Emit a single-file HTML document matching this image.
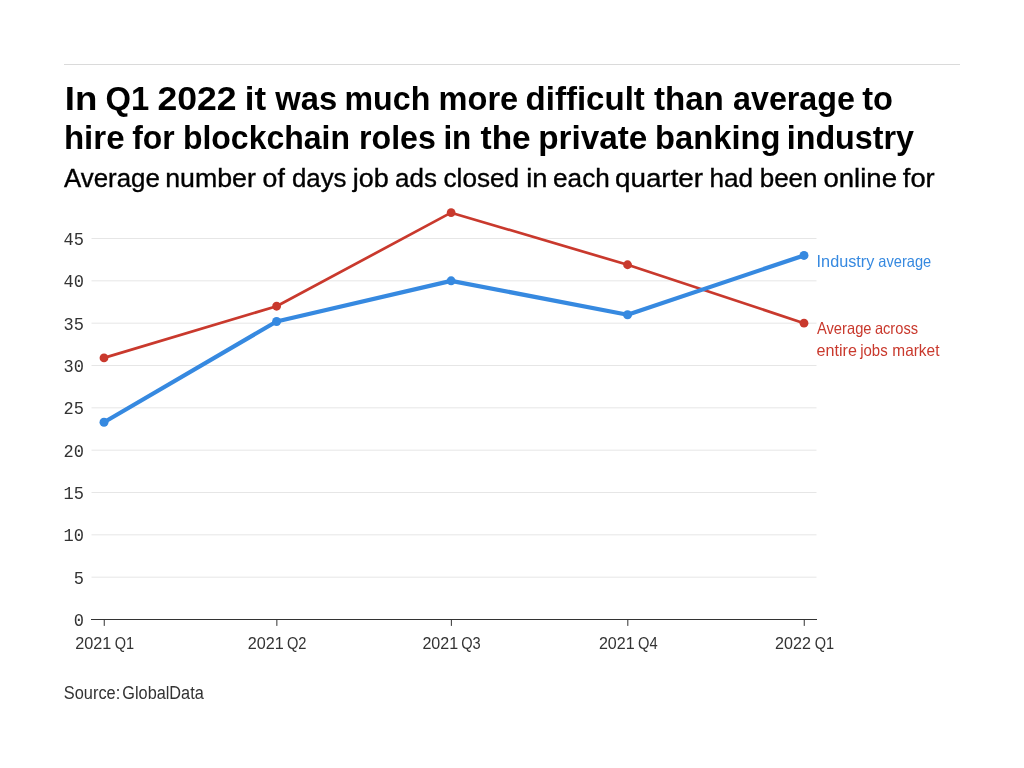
<!DOCTYPE html>
<html lang="en"><head><meta charset="utf-8"><title>Hiring difficulty for blockchain roles in private banking</title>
<style>
html,body{margin:0;padding:0;background:#fff;width:1024px;height:768px;overflow:hidden}
svg{position:absolute;left:0;top:0;display:block;will-change:transform}
text{font-family:"Liberation Sans",sans-serif;fill:#000;white-space:pre}
.t{font-size:33px;font-weight:700}
.s{font-size:25.8px;stroke:#000;stroke-width:.35px}
.m{font-family:"Liberation Mono",monospace;font-size:18.4px;fill:#333;text-anchor:end}
.x{font-size:16.5px;fill:#333}
.l{font-size:16.5px}
.src{font-size:18px;fill:#333}
</style></head><body>
<svg width="1024" height="768" viewBox="0 0 1024 768">
<rect x="64" y="64" width="896" height="1" fill="#dadada"/>
<text class="t" y="110"><tspan x="64.71" textLength="32.59" lengthAdjust="spacingAndGlyphs">In</tspan> <tspan x="105.59" textLength="43.74" lengthAdjust="spacingAndGlyphs">Q1</tspan> <tspan x="157.41" textLength="79.11" lengthAdjust="spacingAndGlyphs">2022</tspan> <tspan x="244.79" textLength="21.31" lengthAdjust="spacingAndGlyphs">it</tspan> <tspan x="275.30" textLength="61.90" lengthAdjust="spacingAndGlyphs">was</tspan> <tspan x="344.56" textLength="85.72" lengthAdjust="spacingAndGlyphs">much</tspan> <tspan x="438.62" textLength="79.60" lengthAdjust="spacingAndGlyphs">more</tspan> <tspan x="525.52" textLength="119.31" lengthAdjust="spacingAndGlyphs">difficult</tspan> <tspan x="653.93" textLength="69.95" lengthAdjust="spacingAndGlyphs">than</tspan> <tspan x="733.06" textLength="121.87" lengthAdjust="spacingAndGlyphs">average</tspan> <tspan x="862.17" textLength="30.75" lengthAdjust="spacingAndGlyphs">to</tspan></text>
<text class="t" y="148.8"><tspan x="63.92" textLength="60.64" lengthAdjust="spacingAndGlyphs">hire</tspan> <tspan x="132.19" textLength="42.51" lengthAdjust="spacingAndGlyphs">for</tspan> <tspan x="182.95" textLength="166.98" lengthAdjust="spacingAndGlyphs">blockchain</tspan> <tspan x="359.06" textLength="76.71" lengthAdjust="spacingAndGlyphs">roles</tspan> <tspan x="443.39" textLength="27.95" lengthAdjust="spacingAndGlyphs">in</tspan> <tspan x="480.50" textLength="50.19" lengthAdjust="spacingAndGlyphs">the</tspan> <tspan x="538.15" textLength="109.13" lengthAdjust="spacingAndGlyphs">private</tspan> <tspan x="655.03" textLength="125.44" lengthAdjust="spacingAndGlyphs">banking</tspan> <tspan x="786.71" textLength="127.32" lengthAdjust="spacingAndGlyphs">industry</tspan></text>
<text class="s" y="186.9"><tspan x="63.98" textLength="95.81" lengthAdjust="spacingAndGlyphs">Average</tspan> <tspan x="165.19" textLength="90.63" lengthAdjust="spacingAndGlyphs">number</tspan> <tspan x="262.61" textLength="22.23" lengthAdjust="spacingAndGlyphs">of</tspan> <tspan x="291.94" textLength="54.49" lengthAdjust="spacingAndGlyphs">days</tspan> <tspan x="352.66" textLength="36.01" lengthAdjust="spacingAndGlyphs">job</tspan> <tspan x="395.06" textLength="41.79" lengthAdjust="spacingAndGlyphs">ads</tspan> <tspan x="443.50" textLength="75.60" lengthAdjust="spacingAndGlyphs">closed</tspan> <tspan x="526.16" textLength="21.29" lengthAdjust="spacingAndGlyphs">in</tspan> <tspan x="553.08" textLength="56.67" lengthAdjust="spacingAndGlyphs">each</tspan> <tspan x="614.96" textLength="88.16" lengthAdjust="spacingAndGlyphs">quarter</tspan> <tspan x="709.55" textLength="43.58" lengthAdjust="spacingAndGlyphs">had</tspan> <tspan x="759.68" textLength="57.86" lengthAdjust="spacingAndGlyphs">been</tspan> <tspan x="823.40" textLength="73.64" lengthAdjust="spacingAndGlyphs">online</tspan> <tspan x="902.80" textLength="31.93" lengthAdjust="spacingAndGlyphs">for</tspan></text>
<g fill="#e6e6e6">
<rect x="91.5" y="576.67" width="725" height="1"/>
<rect x="91.5" y="534.33" width="725" height="1"/>
<rect x="91.5" y="492.00" width="725" height="1"/>
<rect x="91.5" y="449.67" width="725" height="1"/>
<rect x="91.5" y="407.33" width="725" height="1"/>
<rect x="91.5" y="365.00" width="725" height="1"/>
<rect x="91.5" y="322.67" width="725" height="1"/>
<rect x="91.5" y="280.33" width="725" height="1"/>
<rect x="91.5" y="238.00" width="725" height="1"/>
</g>
<text class="m" x="84" y="626.00" textLength="10.2" lengthAdjust="spacingAndGlyphs">0</text>
<text class="m" x="84" y="583.67" textLength="10.2" lengthAdjust="spacingAndGlyphs">5</text>
<text class="m" x="84" y="541.33" textLength="20.4" lengthAdjust="spacingAndGlyphs">10</text>
<text class="m" x="84" y="499.00" textLength="20.4" lengthAdjust="spacingAndGlyphs">15</text>
<text class="m" x="84" y="456.67" textLength="20.4" lengthAdjust="spacingAndGlyphs">20</text>
<text class="m" x="84" y="414.33" textLength="20.4" lengthAdjust="spacingAndGlyphs">25</text>
<text class="m" x="84" y="372.00" textLength="20.4" lengthAdjust="spacingAndGlyphs">30</text>
<text class="m" x="84" y="329.67" textLength="20.4" lengthAdjust="spacingAndGlyphs">35</text>
<text class="m" x="84" y="287.33" textLength="20.4" lengthAdjust="spacingAndGlyphs">40</text>
<text class="m" x="84" y="245.00" textLength="20.4" lengthAdjust="spacingAndGlyphs">45</text>
<rect x="91" y="619" width="726" height="1" fill="#333"/>
<rect x="103.75" y="619" width="1" height="6.9" fill="#333"/>
<text class="x" y="648.7"><tspan x="75.14" textLength="36.10" lengthAdjust="spacingAndGlyphs">2021</tspan> <tspan x="114.68" textLength="19.37" lengthAdjust="spacingAndGlyphs">Q1</tspan></text>
<rect x="276.35" y="619" width="1" height="6.9" fill="#333"/>
<text class="x" y="648.7"><tspan x="247.77" textLength="35.99" lengthAdjust="spacingAndGlyphs">2021</tspan> <tspan x="286.94" textLength="19.59" lengthAdjust="spacingAndGlyphs">Q2</tspan></text>
<rect x="450.87" y="619" width="1" height="6.9" fill="#333"/>
<text class="x" y="648.7"><tspan x="422.38" textLength="35.78" lengthAdjust="spacingAndGlyphs">2021</tspan> <tspan x="461.21" textLength="19.52" lengthAdjust="spacingAndGlyphs">Q3</tspan></text>
<rect x="627.31" y="619" width="1" height="6.9" fill="#333"/>
<text class="x" y="648.7"><tspan x="598.92" textLength="35.71" lengthAdjust="spacingAndGlyphs">2021</tspan> <tspan x="638.08" textLength="19.60" lengthAdjust="spacingAndGlyphs">Q4</tspan></text>
<rect x="803.75" y="619" width="1" height="6.9" fill="#333"/>
<text class="x" y="648.7"><tspan x="775.11" textLength="35.81" lengthAdjust="spacingAndGlyphs">2022</tspan> <tspan x="814.68" textLength="19.37" lengthAdjust="spacingAndGlyphs">Q1</tspan></text>
<polyline points="104.00,357.88 276.60,306.23 451.12,212.68 627.56,264.75 804.00,323.17" fill="none" stroke="#c9392d" stroke-width="2.7" stroke-linejoin="round"/>
<g fill="#c9392d"><circle cx="104.00" cy="357.88" r="4.4"/><circle cx="276.60" cy="306.23" r="4.4"/><circle cx="451.12" cy="212.68" r="4.4"/><circle cx="627.56" cy="264.75" r="4.4"/><circle cx="804.00" cy="323.17" r="4.4"/></g>
<polyline points="104.00,422.23 276.60,321.47 451.12,280.83 627.56,314.70 804.00,255.43" fill="none" stroke="#3689e0" stroke-width="4.2" stroke-linejoin="round"/>
<g fill="#3689e0"><circle cx="104.00" cy="422.23" r="4.5"/><circle cx="276.60" cy="321.47" r="4.5"/><circle cx="451.12" cy="280.83" r="4.5"/><circle cx="627.56" cy="314.70" r="4.5"/><circle cx="804.00" cy="255.43" r="4.5"/></g>
<text class="l" y="266.6" style="fill:#3689e0"><tspan x="816.62" textLength="57.74" lengthAdjust="spacingAndGlyphs">Industry</tspan> <tspan x="878.31" textLength="52.96" lengthAdjust="spacingAndGlyphs">average</tspan></text>
<text class="l" y="334.4" style="fill:#c9392d"><tspan x="816.96" textLength="54.59" lengthAdjust="spacingAndGlyphs">Average</tspan> <tspan x="874.88" textLength="43.19" lengthAdjust="spacingAndGlyphs">across</tspan></text>
<text class="l" y="356" style="fill:#c9392d"><tspan x="816.60" textLength="40.33" lengthAdjust="spacingAndGlyphs">entire</tspan> <tspan x="860.17" textLength="27.47" lengthAdjust="spacingAndGlyphs">jobs</tspan> <tspan x="892.30" textLength="47.17" lengthAdjust="spacingAndGlyphs">market</tspan></text>
<text class="src" y="698.9"><tspan x="63.87" textLength="56.36" lengthAdjust="spacingAndGlyphs">Source:</tspan> <tspan x="122.32" textLength="81.42" lengthAdjust="spacingAndGlyphs">GlobalData</tspan></text>
</svg>
</body></html>
